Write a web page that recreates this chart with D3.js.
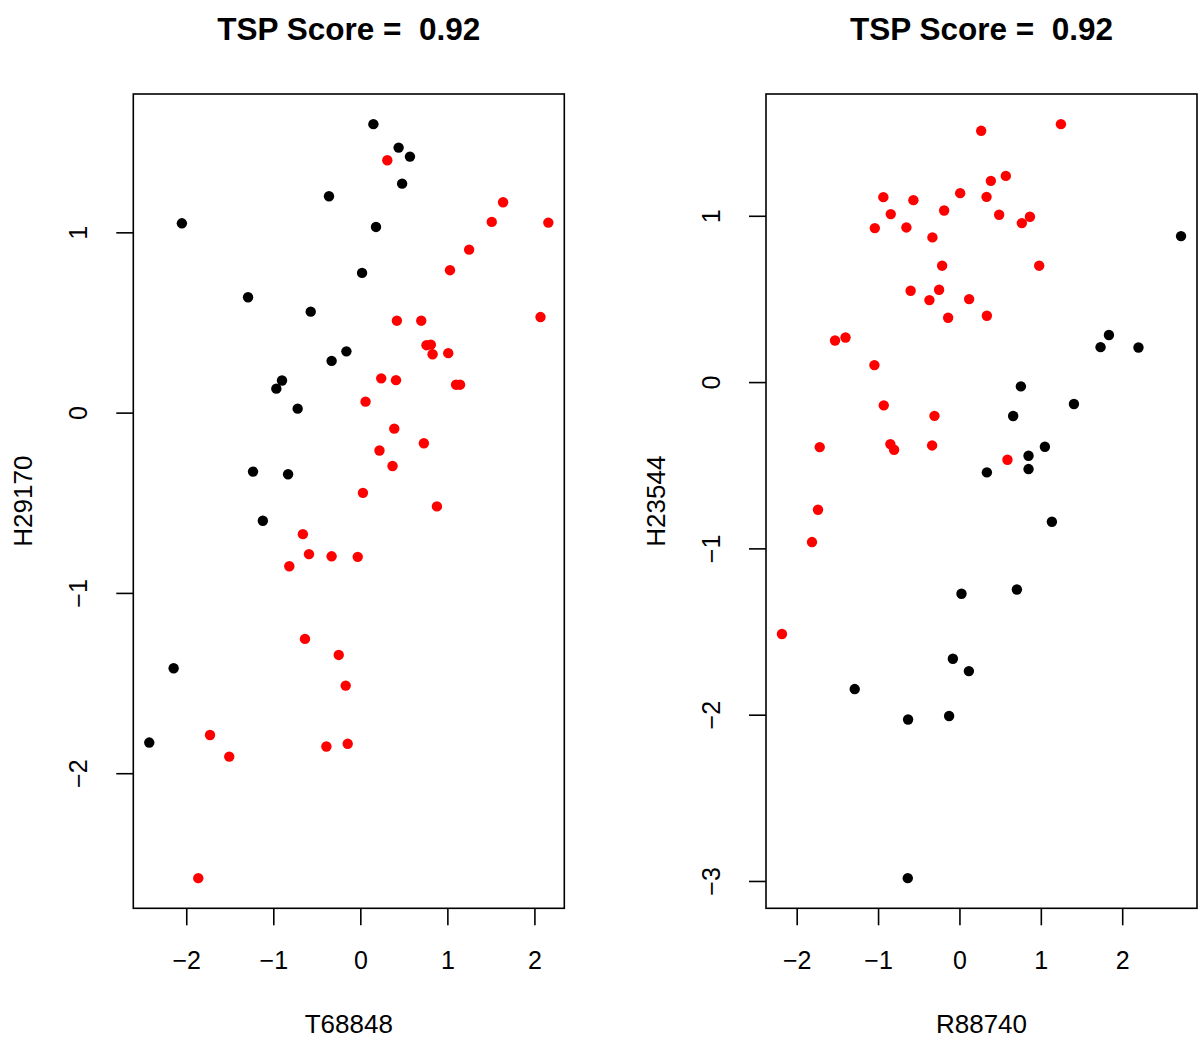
<!DOCTYPE html>
<html>
<head>
<meta charset="utf-8">
<script src="https://cdn.jsdelivr.net/npm/d3@7"></script>
<style>
  body { margin: 0; background: #fff; }
  text { font-family: "Liberation Sans", Arial, sans-serif; fill: #000; }
</style>
</head>
<body>
<div id="canvas"></div>
<script>
// panel 1: T68848 vs H29170
const t68848Black = [0.15, 0.44, 0.57, 0.48, -0.36, -2.05, 0.18, 0.02, -1.29, -0.57, -0.16, -0.33, -0.90, -0.965, -0.72, -1.233, -0.83, -1.12, -2.145, -2.425];
const h29170Black = [1.60, 1.47, 1.42, 1.27, 1.20, 1.05, 1.03, 0.775, 0.64, 0.56, 0.34, 0.287, 0.178, 0.133, 0.022, -0.327, -0.342, -0.60, -1.418, -1.83];
const t68848Red = [0.31, 1.64, 1.51, 2.16, 1.25, 1.03, 0.42, 0.70, 2.07, 0.76, 0.81, 0.83, 1.01, 0.24, 0.41, 1.10, 1.146, 0.06, 0.39, 0.73, 0.22, 0.37, 0.03, 0.88, -0.66, -0.59, -0.33, -0.03, -0.816, -0.636, -0.248, -0.168, -1.727, -1.506, -0.39, -0.145, -1.862];
const h29170Red = [1.40, 1.167, 1.058, 1.054, 0.904, 0.79, 0.51, 0.51, 0.53, 0.374, 0.377, 0.324, 0.33, 0.19, 0.18, 0.155, 0.155, 0.061, -0.089, -0.17, -0.21, -0.296, -0.445, -0.52, -0.674, -0.785, -0.797, -0.80, -0.852, -1.255, -1.344, -1.514, -1.788, -1.908, -1.852, -1.837, -2.582];

// panel 2: R88740 vs H23544
const r88740Black = [2.723, 1.837, 1.734, 2.20, 0.755, 1.407, 0.66, 1.05, 0.849, 0.849, 0.337, 1.136, 0.706, 0.025, -0.081, 0.116, -1.287, -0.631, -0.127, -0.635];
const h23544Black = [0.878, 0.283, 0.21, 0.208, -0.026, -0.132, -0.204, -0.389, -0.443, -0.523, -0.543, -0.84, -1.247, -1.273, -1.664, -1.738, -1.846, -2.029, -2.008, -2.983];
const r88740Red = [0.267, 1.247, 0.57, 0.386, -0.935, -0.566, 0.009, 0.333, -0.844, -0.188, 0.488, 0.767, 0.866, -1.04, -0.652, -0.332, -0.213, 0.98, -0.60, -0.25, -0.369, 0.119, -0.139, 0.337, -1.529, -1.40, -1.045, -0.93, -0.307, -1.717, -0.849, -0.803, -0.336, 0.59, -1.738, -1.812, -2.181];
const h23544Red = [1.511, 1.551, 1.24, 1.21, 1.112, 1.094, 1.136, 1.114, 1.01, 1.032, 1.006, 0.956, 0.994, 0.926, 0.93, 0.87, 0.70, 0.70, 0.549, 0.555, 0.493, 0.499, 0.387, 0.399, 0.25, 0.268, 0.102, -0.14, -0.203, -0.391, -0.373, -0.407, -0.381, -0.467, -0.768, -0.962, -1.515];

const titleText = "TSP Score =  0.92";
const xTicks1 = [-2, -1, 0, 1, 2];
const yTicks1 = [-2, -1, 0, 1];
const xTicks2 = [-2, -1, 0, 1, 2];
const yTicks2 = [-3, -2, -1, 0, 1];

const width = 1200;
const height = 1047;

const svg = d3.select("#canvas").append("svg")
    .attr("width", width)
    .attr("height", height);

// R style range: data extent widened by 4% each side
function padded(vals) {
    const [lo, hi] = d3.extent(vals);
    const p = (hi - lo) * 0.04;
    return [lo - p, hi + p];
}

function drawPanel(left, xLabel, yLabel, xTicks, yTicks, xb, yb, xr, yr) {
    const top = 94, bottom = 908.3, w = 431;

    const x = d3.scaleLinear().domain(padded(xb.concat(xr))).range([left, left + w]);
    const y = d3.scaleLinear().domain(padded(yb.concat(yr))).range([bottom, top]);

    const g = svg.append("g");

    const pts = xb.map((v, i) => ({ x: v, y: yb[i], c: "#000000" }))
        .concat(xr.map((v, i) => ({ x: v, y: yr[i], c: "#ff0000" })));

    g.selectAll("circle").data(pts).enter().append("circle")
        .attr("cx", d => x(d.x))
        .attr("cy", d => y(d.y))
        .attr("r", 5.2)
        .style("fill", d => d.c);

    g.append("rect")
        .attr("x", left).attr("y", top)
        .attr("width", w).attr("height", bottom - top)
        .attr("fill", "none").attr("stroke", "#000").attr("stroke-width", 1.6);

    const fmt = d3.format("d");

    const xAxis = g.append("g")
        .attr("transform", `translate(0,${bottom})`)
        .call(d3.axisBottom(x).tickValues(xTicks).tickFormat(fmt).tickSize(17).tickPadding(26).tickSizeOuter(0));
    const yAxis = g.append("g")
        .attr("transform", `translate(${left},0)`)
        .call(d3.axisLeft(y).tickValues(yTicks).tickFormat(fmt).tickSize(17).tickSizeOuter(0));

    [xAxis, yAxis].forEach(a => {
        a.select(".domain").remove();
        a.selectAll("line").attr("stroke", "#000").attr("stroke-width", 1.6);
        a.selectAll("text").style("font-size", "25px").attr("font-family", null);
    });

    yAxis.selectAll("text")
        .attr("x", 0).attr("y", 0).attr("dy", 0)
        .attr("text-anchor", "middle")
        .attr("transform", "translate(-46,0) rotate(-90)");

    svg.append("text")
        .attr("x", left + w / 2)
        .attr("y", 1033)
        .attr("text-anchor", "middle")
        .style("font-size", "26px")
        .text(xLabel);

    svg.append("text")
        .attr("text-anchor", "middle")
        .attr("transform", `translate(${left - 101.5},${(top + bottom) / 2}) rotate(-90)`)
        .style("font-size", "26px")
        .text(yLabel);

    svg.append("text")
        .attr("x", left + w / 2)
        .attr("y", 40)
        .attr("text-anchor", "middle")
        .style("font-size", "31.5px")
        .style("font-weight", "bold")
        .style("white-space", "pre")
        .text(titleText);
}

drawPanel(133.3, "T68848", "H29170", xTicks1, yTicks1, t68848Black, h29170Black, t68848Red, h29170Red);
drawPanel(766, "R88740", "H23544", xTicks2, yTicks2, r88740Black, h23544Black, r88740Red, h23544Red);
</script>
</body>
</html>
